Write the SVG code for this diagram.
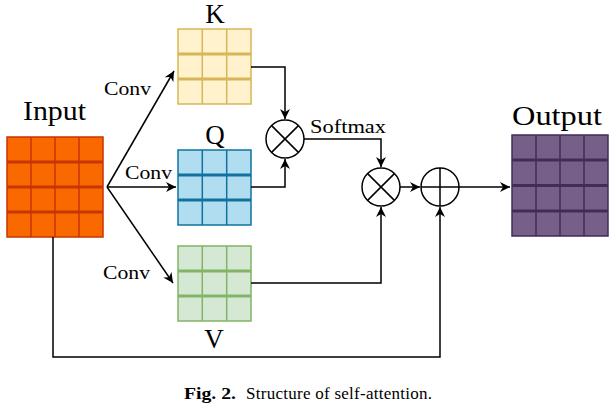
<svg xmlns="http://www.w3.org/2000/svg" width="615" height="405" viewBox="0 0 615 405">
<style>
.lbl{font-family:"Liberation Serif","Times New Roman",serif;fill:#000}
.big{font-size:27px}
.kqv{font-size:27px}
.sm{font-size:19px}
.cap{font-family:"Liberation Serif","Times New Roman",serif;font-size:17px;fill:#000}
.conn{fill:none;stroke:#000;stroke-width:1.5}
.op{fill:#fff;stroke:#000;stroke-width:1.5}
</style>
<defs>
<marker id="ar" markerUnits="userSpaceOnUse" markerWidth="12" markerHeight="10" refX="10" refY="5" orient="auto">
<path d="M0,0 L10,5 L0,10 L3,5 Z" fill="#000"/>
</marker>
</defs>
<rect width="615" height="405" fill="#fff"/>

<g id="input">
<text class="lbl big" x="23" y="120" textLength="63" lengthAdjust="spacingAndGlyphs">Input</text>
<rect x="7" y="137" width="96" height="100" fill="#FA6800" stroke="#C73500" stroke-width="1.5"/>
<g stroke="#C73500">
<path d="M31,137V237M55,137V237M79,137V237" stroke-width="1.5"/>
<path d="M7,162H103M7,187H103M7,212H103" stroke-width="3"/>
</g>
</g>

<g id="k">
<text class="lbl kqv" x="215" y="23" text-anchor="middle">K</text>
<rect x="178" y="29" width="73" height="75" fill="#FFF2CC" stroke="#D6B656" stroke-width="1.5"/>
<g stroke="#D6B656">
<path d="M202.3,29V104M226.7,29V104" stroke-width="1.5"/>
<path d="M178,54H251M178,79H251" stroke-width="3"/>
</g>
</g>

<g id="q">
<text class="lbl kqv" x="215" y="144" text-anchor="middle">Q</text>
<rect x="178" y="150" width="73" height="75" fill="#B1DDF0" stroke="#10739E" stroke-width="1.5"/>
<g stroke="#10739E">
<path d="M202.3,150V225M226.7,150V225" stroke-width="1.5"/>
<path d="M178,175H251M178,200H251" stroke-width="3"/>
</g>
</g>

<g id="v">
<rect x="178" y="246" width="73" height="75" fill="#D5E8D4" stroke="#82B366" stroke-width="1.5"/>
<g stroke="#82B366">
<path d="M202.3,246V321M226.7,246V321" stroke-width="1.5"/>
<path d="M178,271H251M178,296H251" stroke-width="3"/>
</g>
<text class="lbl kqv" x="214" y="348" text-anchor="middle">V</text>
</g>

<g id="output">
<text class="lbl big" x="512" y="125" textLength="90" lengthAdjust="spacingAndGlyphs">Output</text>
<rect x="512" y="135" width="96" height="101" fill="#76608A" stroke="#432D57" stroke-width="1.5"/>
<g stroke="#432D57">
<path d="M536,135V236M560,135V236M584,135V236" stroke-width="1.5"/>
<path d="M512,160H608M512,185.5H608M512,211H608" stroke-width="3"/>
</g>
</g>

<g id="mul1">
<circle class="op" cx="285" cy="139" r="19"/>
<path class="conn" d="M271.6,125.6L298.4,152.4M298.4,125.6L271.6,152.4"/>
</g>

<g id="mul2">
<circle class="op" cx="381" cy="187" r="19"/>
<path class="conn" d="M367.6,173.6L394.4,200.4M394.4,173.6L367.6,200.4"/>
</g>

<g id="add">
<circle class="op" cx="440" cy="187" r="19"/>
<path class="conn" d="M421,187H459M440,168V206"/>
</g>

<g id="connectors">
<path class="conn" d="M107,187L174,71" marker-end="url(#ar)"/>
<path class="conn" d="M107,187H176" marker-end="url(#ar)"/>
<path class="conn" d="M107,187L173,283" marker-end="url(#ar)"/>
<path class="conn" d="M251,67H285V119" marker-end="url(#ar)"/>
<path class="conn" d="M251,187H285V159" marker-end="url(#ar)"/>
<path class="conn" d="M304,139H381V167" marker-end="url(#ar)"/>
<path class="conn" d="M251,283H381V207" marker-end="url(#ar)"/>
<path class="conn" d="M400,187H420" marker-end="url(#ar)"/>
<path class="conn" d="M459,187H510" marker-end="url(#ar)"/>
<path class="conn" d="M53,237V357H440V207" marker-end="url(#ar)"/>
<text class="lbl sm" x="104" y="95" textLength="47" lengthAdjust="spacingAndGlyphs">Conv</text>
<text class="lbl sm" x="125" y="179" textLength="47" lengthAdjust="spacingAndGlyphs">Conv</text>
<text class="lbl sm" x="103" y="279" textLength="47" lengthAdjust="spacingAndGlyphs">Conv</text>
<text class="lbl sm" x="310" y="133" textLength="76" lengthAdjust="spacingAndGlyphs">Softmax</text>
</g>

<text class="cap" x="184" y="399" font-weight="bold" textLength="52" lengthAdjust="spacingAndGlyphs">Fig. 2.</text>
<text class="cap" x="246" y="399" textLength="186" lengthAdjust="spacing">Structure of self-attention.</text>
</svg>
